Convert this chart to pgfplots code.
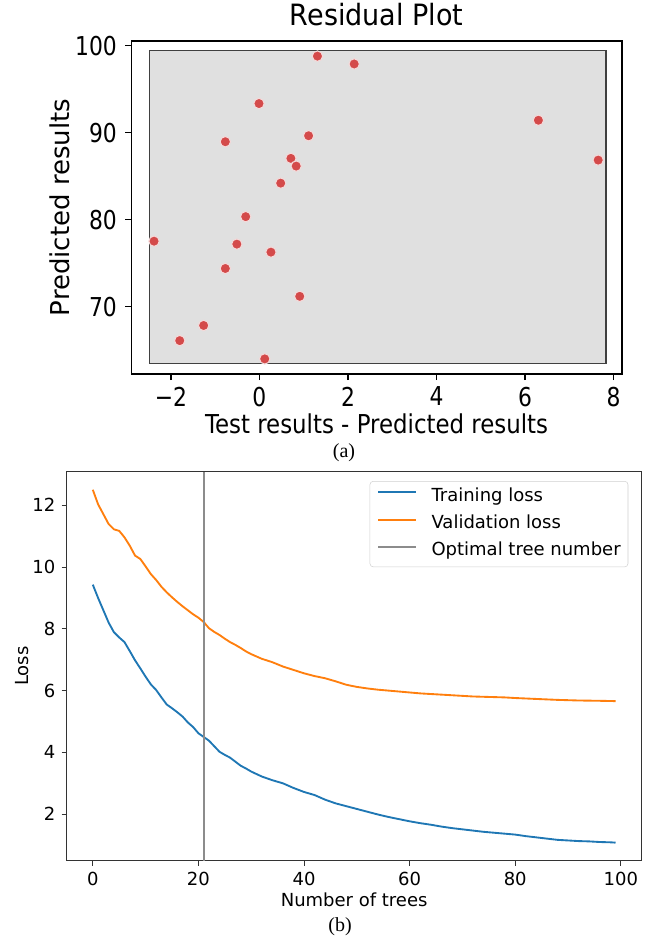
\documentclass[border=0pt]{standalone}
\usepackage{fontspec}
\setmainfont{DejaVu Sans}
\newfontfamily\tickA[FakeStretch=0.84]{DejaVu Sans}
\newfontfamily\labA[FakeStretch=0.88]{DejaVu Sans}
\newfontfamily\titA[FakeStretch=0.92]{DejaVu Sans}
\newfontfamily\capserif{Liberation Serif}
\usepackage{pgfplots}
\pgfplotsset{compat=1.18}

\definecolor{mplblue}{HTML}{1F77B4}
\definecolor{mplorange}{HTML}{FF7F0E}
\definecolor{dotred}{HTML}{D44A4A}
\definecolor{dotedge}{HTML}{F4DADA}
\definecolor{panelgray}{HTML}{E0E0E0}
\definecolor{vgray}{HTML}{8C8C8C}

\begin{document}
\begin{tikzpicture}
\useasboundingbox (0,0) rectangle (488.25pt,-705pt);

% (a) residual scatter
\begin{axis}[
  at={(98.6pt,-280.5pt)}, anchor=south west,
  scale only axis, width=367.65pt, height=249.75pt,
  xmin=-2.89, xmax=8.18, ymin=62.26, ymax=100.54,
  axis line style={black, line width=1.4pt},
  xtick={-2,0,2,4,6,8}, xticklabels={−2,0,2,4,6,8},
  ytick={70,80,90,100}, yticklabels={70,80,90,100},
  xtick pos=bottom, ytick pos=left, tick align=outside,
  major tick length=4.5pt, tick style={black, line width=1pt},
  ticklabel style={font=\tickA\fontsize{19.5}{21}\selectfont, inner sep=0pt},
  xticklabel style={anchor=north, yshift=-5pt},
  yticklabel style={anchor=east, xshift=-6.3pt},
  title={Residual Plot},
  title style={font=\titA\fontsize{22}{24}\selectfont, at={(axis description cs:0.5,1.0231)}, anchor=base, inner sep=0pt},
  xlabel={Test results - Predicted results},
  xlabel style={font=\labA\fontsize{19.5}{22}\selectfont, at={(axis description cs:0.5,-0.178)}, anchor=base, inner sep=0pt},
  ylabel={Predicted results},
  ylabel style={font=\fontsize{19.5}{22}\selectfont, at={(axis description cs:-0.1264,0.5)}, anchor=base, inner sep=0pt},
]
\addplot[fill=panelgray, draw=black!75, line width=1.2pt] coordinates
  {(-2.48,63.46) (7.82,63.46) (7.82,99.46) (-2.48,99.46)} -- cycle;
\addplot[only marks, mark=*, mark size=3.9pt,
  mark options={fill=dotred, draw=dotedge, line width=0.8pt}] coordinates {
  (1.31,98.80) (2.14,97.90) (-0.01,93.35) (-0.77,88.96) (1.11,89.65)
  (0.71,87.05) (0.83,86.16) (0.48,84.20) (-0.31,80.35) (-2.38,77.53)
  (-0.51,77.19) (0.26,76.27) (-0.77,74.39) (0.91,71.19) (-1.26,67.84)
  (-1.80,66.10) (0.12,64.00) (6.30,91.43) (7.65,86.85)
};
\end{axis}
\node[font=\capserif\fontsize{15}{17}\selectfont] at (258pt,-339.4pt) {(a)};

% (b) loss curves
\begin{axis}[
  at={(50pt,-645.4pt)}, anchor=south west,
  scale only axis, width=431.25pt, height=291.75pt,
  xmin=-4.95, xmax=103.95, ymin=0.5, ymax=13.09,
  axis line style={black!80, line width=0.75pt},
  xtick={0,20,40,60,80,100}, xticklabels={0,20,40,60,80,100},
  ytick={2,4,6,8,10,12}, yticklabels={2,4,6,8,10,12},
  xtick pos=bottom, ytick pos=left, tick align=outside,
  major tick length=3.75pt, tick style={black!80, line width=0.75pt},
  ticklabel style={font=\fontsize{13.5}{15}\selectfont, inner sep=0pt},
  xticklabel style={anchor=north, yshift=-4.6pt},
  yticklabel style={anchor=east, xshift=-4.6pt},
  xlabel={Number of trees},
  xlabel style={font=\fontsize{13.5}{15}\selectfont, at={(axis description cs:0.5,-0.1188)}, anchor=base, inner sep=0pt},
  ylabel={Loss},
  ylabel style={font=\fontsize{13.5}{15}\selectfont, at={(axis description cs:-0.0668,0.5)}, anchor=base, inner sep=0pt},
  legend style={at={(axis description cs:0.9767,0.9756)}, anchor=north east,
    draw=black!18, rounded corners=2.5pt, fill=white,
    font=\fontsize{13.5}{15}\selectfont,
    inner xsep=5.5pt, inner ysep=5pt, row sep=7.6pt, column sep=11pt,
    nodes={inner sep=0pt, text height=9.8pt, text depth=3.2pt}},
  legend cell align=left,
  legend image code/.code={\draw[#1] (0pt,3.3pt) -- (28.3pt,3.3pt);},
]
\addplot[mplblue, line width=1.4pt] coordinates {
  (0,9.43) (1,9.00) (2,8.60) (3,8.20) (4,7.89) (5,7.72) (6,7.57) (7,7.28)
  (8,6.98) (9,6.72) (10,6.45) (11,6.20) (12,6.02) (13,5.78) (14,5.55)
  (15,5.43) (16,5.30) (17,5.16) (18,4.97) (19,4.82) (20,4.62) (21,4.50)
  (22,4.38) (23,4.20) (24,4.02) (25,3.92) (26,3.83) (27,3.70) (28,3.57)
  (29,3.48) (30,3.38) (32,3.22) (34,3.10) (36,3.00) (38,2.85) (40,2.72)
  (42,2.62) (44,2.47) (46,2.35) (48,2.26) (50,2.17) (52,2.08) (54,1.99)
  (56,1.91) (58,1.84) (60,1.77) (62,1.71) (64,1.66) (66,1.60) (68,1.55)
  (70,1.51) (72,1.47) (74,1.43) (76,1.40) (78,1.37) (80,1.34) (82,1.29)
  (84,1.25) (86,1.21) (88,1.17) (90,1.15) (92,1.13) (94,1.12) (96,1.10)
  (98,1.09) (99,1.08)
};
\addlegendentry{Training loss}
\addplot[mplorange, line width=1.4pt] coordinates {
  (0,12.50) (1,12.03) (2,11.71) (3,11.39) (4,11.22) (5,11.17) (6,10.96)
  (7,10.69) (8,10.37) (9,10.26) (10,10.02) (11,9.77) (12,9.58) (13,9.36)
  (14,9.18) (15,9.02) (16,8.87) (17,8.73) (18,8.60) (19,8.47) (20,8.36)
  (21,8.22) (22,8.02) (23,7.90) (24,7.80) (25,7.68) (26,7.57) (27,7.48)
  (28,7.38) (29,7.27) (30,7.18) (32,7.03) (34,6.92) (36,6.78) (38,6.67)
  (40,6.56) (42,6.47) (44,6.40) (46,6.30) (48,6.19) (50,6.12) (52,6.07)
  (54,6.03) (56,6.00) (58,5.97) (60,5.94) (62,5.91) (64,5.89) (66,5.87)
  (68,5.85) (70,5.83) (72,5.81) (74,5.80) (76,5.79) (78,5.78) (80,5.76)
  (84,5.73) (88,5.70) (92,5.68) (96,5.67) (99,5.66)
};
\addlegendentry{Validation loss}
\addplot[vgray, line width=1.4pt] coordinates {(21,0.5) (21,13.09)};
\addlegendentry{Optimal tree number}
\end{axis}
\node[font=\capserif\fontsize{15}{17}\selectfont] at (255pt,-695.3pt) {(b)};
\end{tikzpicture}
\end{document}
